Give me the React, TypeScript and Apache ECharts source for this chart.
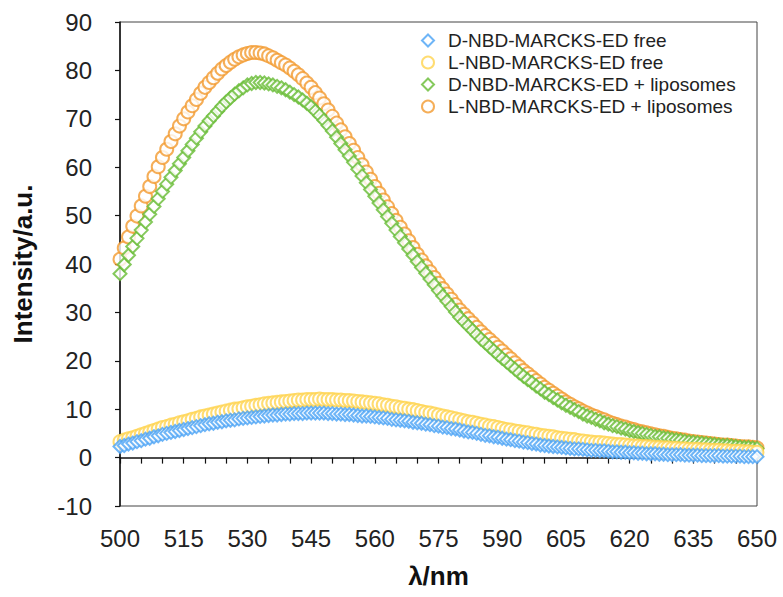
import React, { useEffect, useRef } from "react";
import * as echarts from "echarts";

const wavelengths = [
  500, 501, 502, 503, 504, 505, 506, 507, 508, 509, 510, 511, 512, 513, 514, 515, 516, 517, 518, 519,
  520, 521, 522, 523, 524, 525, 526, 527, 528, 529, 530, 531, 532, 533, 534, 535, 536, 537, 538, 539,
  540, 541, 542, 543, 544, 545, 546, 547, 548, 549, 550, 551, 552, 553, 554, 555, 556, 557, 558, 559,
  560, 561, 562, 563, 564, 565, 566, 567, 568, 569, 570, 571, 572, 573, 574, 575, 576, 577, 578, 579,
  580, 581, 582, 583, 584, 585, 586, 587, 588, 589, 590, 591, 592, 593, 594, 595, 596, 597, 598, 599,
  600, 601, 602, 603, 604, 605, 606, 607, 608, 609, 610, 611, 612, 613, 614, 615, 616, 617, 618, 619,
  620, 621, 622, 623, 624, 625, 626, 627, 628, 629, 630, 631, 632, 633, 634, 635, 636, 637, 638, 639,
  640, 641, 642, 643, 644, 645, 646, 647, 648, 649, 650,
];

// D-NBD-MARCKS-ED free
const dFree = [
  2.3, 2.5, 2.8, 3.0, 3.3, 3.5, 3.8, 4.0, 4.3, 4.5, 4.8, 5.0, 5.2, 5.4, 5.6, 5.8, 6.0, 6.2, 6.4, 6.6,
  6.8, 7.0, 7.1, 7.3, 7.4, 7.6, 7.7, 7.8, 8.0, 8.1, 8.2, 8.3, 8.4, 8.5, 8.6, 8.7, 8.8, 8.8, 8.9, 9.0,
  9.0, 9.1, 9.1, 9.1, 9.2, 9.2, 9.2, 9.2, 9.2, 9.1, 9.1, 9.0, 9.0, 8.9, 8.9, 8.8, 8.7, 8.6, 8.6, 8.5,
  8.4, 8.3, 8.2, 8.1, 7.9, 7.8, 7.7, 7.6, 7.5, 7.3, 7.2, 7.1, 6.9, 6.8, 6.6, 6.5, 6.3, 6.2, 6.0, 5.9,
  5.7, 5.5, 5.3, 5.2, 5.0, 4.8, 4.6, 4.5, 4.3, 4.2, 4.0, 3.8, 3.7, 3.5, 3.4, 3.2, 3.1, 2.9, 2.8, 2.6,
  2.5, 2.4, 2.3, 2.2, 2.1, 2.0, 1.9, 1.8, 1.8, 1.7, 1.6, 1.5, 1.5, 1.4, 1.4, 1.3, 1.2, 1.2, 1.1, 1.1,
  1.0, 1.0, 0.9, 0.9, 0.8, 0.8, 0.8, 0.7, 0.7, 0.6, 0.6, 0.6, 0.6, 0.5, 0.5, 0.5, 0.5, 0.4, 0.4, 0.4,
  0.4, 0.4, 0.3, 0.3, 0.3, 0.3, 0.3, 0.2, 0.2, 0.2, 0.2,
];

// L-NBD-MARCKS-ED free
const lFree = [
  3.3, 3.6, 3.9, 4.1, 4.4, 4.7, 5.0, 5.3, 5.6, 5.9, 6.2, 6.4, 6.7, 6.9, 7.2, 7.4, 7.6, 7.9, 8.1, 8.4,
  8.6, 8.8, 9.0, 9.2, 9.4, 9.6, 9.8, 10.0, 10.1, 10.3, 10.5, 10.6, 10.8, 10.9, 11.1, 11.2, 11.3, 11.4, 11.5, 11.6,
  11.7, 11.8, 11.9, 11.9, 12.0, 12.0, 12.0, 12.1, 12.0, 12.0, 12.0, 11.9, 11.9, 11.8, 11.8, 11.7, 11.6, 11.5, 11.4, 11.3,
  11.2, 11.1, 10.9, 10.8, 10.6, 10.5, 10.3, 10.2, 10.0, 9.9, 9.7, 9.5, 9.3, 9.2, 9.0, 8.8, 8.6, 8.4, 8.2, 8.0,
  7.8, 7.6, 7.4, 7.3, 7.1, 6.9, 6.7, 6.5, 6.4, 6.2, 6.0, 5.8, 5.7, 5.5, 5.4, 5.2, 5.1, 4.9, 4.8, 4.6,
  4.5, 4.4, 4.3, 4.1, 4.0, 3.9, 3.8, 3.7, 3.5, 3.4, 3.3, 3.2, 3.1, 3.1, 3.0, 2.9, 2.8, 2.7, 2.7, 2.6,
  2.5, 2.4, 2.4, 2.3, 2.3, 2.2, 2.1, 2.1, 2.0, 2.0, 1.9, 1.9, 1.8, 1.8, 1.7, 1.7, 1.7, 1.6, 1.6, 1.5,
  1.5, 1.5, 1.4, 1.4, 1.3, 1.3, 1.3, 1.2, 1.2, 1.1, 1.1,
];

// D-NBD-MARCKS-ED + liposomes
const dLipo = [
  38.0, 39.9, 41.8, 43.6, 45.3, 47.0, 48.7, 50.3, 51.9, 53.5, 55.0, 56.5, 57.9, 59.3, 60.7, 62.0, 63.4, 64.7, 66.0, 67.3,
  68.5, 69.6, 70.6, 71.6, 72.6, 73.5, 74.3, 75.1, 75.8, 76.4, 77.0, 77.3, 77.5, 77.5, 77.4, 77.2, 77.0, 76.7, 76.4, 76.0,
  75.5, 75.0, 74.5, 73.9, 73.2, 72.5, 71.6, 70.7, 69.7, 68.6, 67.5, 66.2, 64.9, 63.6, 62.3, 61.0, 59.6, 58.2, 56.8, 55.4,
  54.0, 52.6, 51.2, 49.8, 48.4, 47.0, 45.7, 44.4, 43.1, 41.8, 40.5, 39.3, 38.1, 36.9, 35.7, 34.5, 33.4, 32.3, 31.2, 30.1,
  29.0, 28.1, 27.2, 26.3, 25.4, 24.5, 23.7, 22.9, 22.1, 21.3, 20.5, 19.8, 19.0, 18.3, 17.5, 16.8, 16.1, 15.5, 14.8, 14.2,
  13.5, 13.0, 12.4, 11.9, 11.3, 10.8, 10.4, 9.9, 9.5, 9.0, 8.6, 8.3, 7.9, 7.6, 7.2, 6.9, 6.6, 6.4, 6.1, 5.9,
  5.6, 5.4, 5.2, 5.0, 4.8, 4.6, 4.4, 4.3, 4.1, 4.0, 3.8, 3.7, 3.6, 3.4, 3.3, 3.2, 3.1, 3.0, 2.9, 2.8,
  2.7, 2.6, 2.5, 2.5, 2.4, 2.3, 2.2, 2.1, 2.1, 2.0, 1.9,
];

// L-NBD-MARCKS-ED + liposomes
const lLipo = [
  41.0, 43.3, 45.6, 47.8, 49.9, 52.0, 54.0, 56.0, 58.1, 60.1, 62.0, 63.7, 65.3, 66.9, 68.5, 70.0, 71.4, 72.7, 74.0, 75.3,
  76.5, 77.5, 78.5, 79.4, 80.3, 81.0, 81.7, 82.3, 82.8, 83.2, 83.5, 83.7, 83.7, 83.6, 83.4, 83.0, 82.6, 82.1, 81.6, 81.1,
  80.5, 79.8, 79.1, 78.3, 77.4, 76.5, 75.4, 74.3, 73.1, 71.8, 70.5, 69.1, 67.7, 66.3, 64.9, 63.5, 62.0, 60.5, 59.0, 57.5,
  56.0, 54.6, 53.2, 51.8, 50.4, 49.0, 47.6, 46.2, 44.8, 43.4, 42.0, 40.8, 39.6, 38.4, 37.2, 36.0, 34.9, 33.8, 32.7, 31.6,
  30.5, 29.6, 28.7, 27.8, 26.9, 26.0, 25.2, 24.4, 23.6, 22.8, 22.0, 21.2, 20.4, 19.6, 18.8, 18.0, 17.3, 16.6, 15.9, 15.2,
  14.5, 13.9, 13.3, 12.7, 12.1, 11.5, 11.0, 10.5, 10.1, 9.6, 9.2, 8.8, 8.5, 8.1, 7.8, 7.4, 7.1, 6.8, 6.5, 6.3,
  6.0, 5.8, 5.5, 5.3, 5.1, 4.9, 4.7, 4.5, 4.4, 4.2, 4.0, 3.9, 3.7, 3.6, 3.4, 3.3, 3.2, 3.1, 3.0, 2.9,
  2.8, 2.7, 2.6, 2.6, 2.5, 2.4, 2.3, 2.2, 2.2, 2.1, 2.0,
];

const seriesNames = [
  "D-NBD-MARCKS-ED free",
  "L-NBD-MARCKS-ED free",
  "D-NBD-MARCKS-ED + liposomes",
  "L-NBD-MARCKS-ED + liposomes",
];

const FONT = "'Liberation Sans', Arial, Helvetica, sans-serif";

export default function App() {
  const ref = useRef<HTMLDivElement>(null);

  useEffect(() => {
    if (!ref.current) return;
    const chart = echarts.init(ref.current, undefined, { renderer: "svg" });

    const pairs = (vals: number[]) => wavelengths.map((w, i) => [w, vals[i]]);
    const mk = (name: string, vals: number[], color: string, symbol: string) => ({
      name,
      type: "scatter",
      data: pairs(vals),
      symbol,
      symbolSize: 13,
      itemStyle: { color: "#ffffff", borderColor: color, borderWidth: 2 },
      emphasis: { disabled: true },
    });

    chart.setOption({
      animation: false,
      backgroundColor: "#ffffff",
      textStyle: { fontFamily: FONT },
      grid: {
        left: 120,
        right: 26,
        top: 22,
        bottom: 91,
        show: true,
        borderColor: "#444",
        borderWidth: 1,
      },
      legend: {
        orient: "vertical",
        left: 416,
        top: 26,
        itemWidth: 12,
        itemHeight: 12,
        itemGap: 3,
        data: seriesNames,
        textStyle: {
          fontFamily: FONT,
          fontSize: 19,
          color: "#222",
          lineHeight: 19,
          padding: [0, 0, 0, 9],
        },
      },
      xAxis: {
        type: "value",
        min: 500,
        max: 650,
        interval: 15,
        name: "λ/nm",
        nameLocation: "middle",
        nameGap: 57,
        nameTextStyle: { fontFamily: FONT, fontSize: 26, fontWeight: "bold", color: "#111" },
        axisLine: { show: true, lineStyle: { color: "#111", width: 1.5 } },
        axisTick: { show: true, length: 6, lineStyle: { color: "#111", width: 1.2 } },
        minorTick: { show: true, splitNumber: 3, length: 6, lineStyle: { color: "#111", width: 1.2 } },
        axisLabel: { fontFamily: FONT, fontSize: 24, color: "#222", margin: 20 },
        splitLine: { show: false },
      },
      yAxis: {
        type: "value",
        min: -10,
        max: 90,
        interval: 10,
        name: "Intensity/a.u.",
        nameLocation: "middle",
        nameGap: 84,
        nameTextStyle: { fontFamily: FONT, fontSize: 26, fontWeight: "bold", color: "#111" },
        axisLine: { show: true, lineStyle: { color: "#111", width: 1.5 } },
        axisTick: { show: true, length: 5, lineStyle: { color: "#111", width: 1.2 } },
        axisLabel: { fontFamily: FONT, fontSize: 24, color: "#222", margin: 28 },
        splitLine: { show: false },
      },
      series: [
        mk(seriesNames[3], lLipo, "#F39A2E", "circle"),
        mk(seriesNames[2], dLipo, "#66BB33", "diamond"),
        mk(seriesNames[1], lFree, "#FFD34D", "circle"),
        mk(seriesNames[0], dFree, "#4AA3F5", "diamond"),
      ],
    });

    return () => chart.dispose();
  }, []);

  return (
    <div
      ref={ref}
      style={{ position: "fixed", left: 0, top: 0, width: 783, height: 597 }}
    />
  );
}
